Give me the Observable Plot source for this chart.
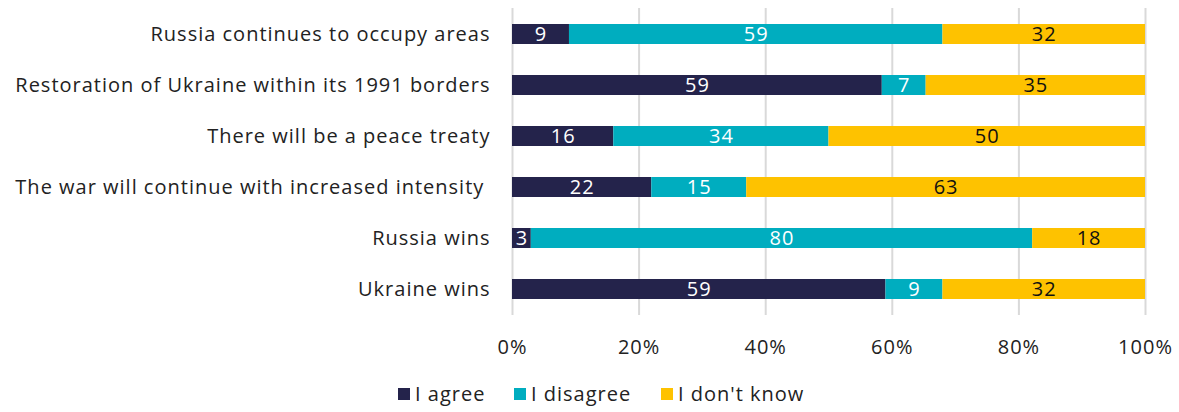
<!DOCTYPE html>
<html>
<head>
<meta charset="utf-8">
<script src="https://cdn.jsdelivr.net/npm/d3@7"></script>
<script src="https://cdn.jsdelivr.net/npm/@observablehq/plot@0.6"></script>
<style>
  body { margin: 0; background: #fff; font-family: "Open Sans", sans-serif; }
  #chart svg { display: block; }
  .legend { display: flex; justify-content: flex-start; padding-left: 398px; margin-top: 16px; font-size: 20px; letter-spacing: 1px; color: #222; line-height: 26px; }
  .legend .item { display: flex; align-items: center; }
  .legend .sw { width: 12px; height: 12px; margin-right: 5px; flex: none; }
</style>
</head>
<body>
<div id="chart"></div>
<div class="legend" id="legend"></div>
<script>
const questions = [
  "Russia continues to occupy areas",
  "Restoration of Ukraine within its 1991 borders",
  "There will be a peace treaty",
  "The war will continue with increased intensity\u00a0",
  "Russia wins",
  "Ukraine wins"
];
const responses = ["I agree", "I disagree", "I don't know"];
const agree    = [9, 59, 16, 22, 3, 59];
const disagree = [59, 7, 34, 15, 80, 9];
const dontKnow = [32, 35, 50, 63, 18, 32];
const colors = ["#24234b", "#00adbf", "#fec200"];
const xTicks = [0, 0.2, 0.4, 0.6, 0.8, 1];

const series = [agree, disagree, dontKnow];
const data = [];
questions.forEach((q, i) => {
  responses.forEach((r, j) => data.push({q, resp: r, value: series[j][i]}));
});

const stack = (extra) => Plot.stackX({x: "value", y: "q", z: "resp", offset: "normalize", ...extra});

const chart = Plot.plot({
  width: 1179,
  height: 365,
  marginTop: 8,
  marginBottom: 50,
  marginLeft: 512,
  marginRight: 34,
  style: {fontFamily: "'Open Sans', sans-serif", fontSize: "20px", color: "#222", letterSpacing: "1px"},
  x: {domain: [0, 1], ticks: xTicks, tickFormat: d3.format(".0%"), label: null},
  y: {domain: questions, paddingInner: 0.6, paddingOuter: 0.3, label: null},
  color: {domain: responses, range: colors},
  marks: [
    Plot.ruleX(xTicks, {stroke: "#d9d9d9", strokeWidth: 2}),
    Plot.barX(data, stack({fill: "resp"})),
    Plot.text(data, stack({text: d => d.resp === "I don't know" ? "" : d.value, fill: "white", fontSize: 20})),
    Plot.text(data, stack({text: d => d.resp === "I don't know" ? d.value : "", fill: "#111", fontSize: 20})),
    Plot.axisX({ticks: xTicks, tickFormat: d3.format(".0%"), tickSize: 0, tickPadding: 24, fontSize: 20, label: null}),
    Plot.axisY({tickSize: 0, tickPadding: 22, fontSize: 20, label: null})
  ]
});
document.getElementById("chart").appendChild(chart);

const legend = document.getElementById("legend");
const itemWidths = ["116px", "147px", "auto"];
responses.forEach((r, i) => {
  const item = document.createElement("div");
  item.className = "item";
  item.style.width = itemWidths[i];
  const sw = document.createElement("div");
  sw.className = "sw";
  sw.style.background = colors[i];
  const t = document.createElement("span");
  t.textContent = r;
  item.appendChild(sw); item.appendChild(t);
  legend.appendChild(item);
});
</script>
</body>
</html>
